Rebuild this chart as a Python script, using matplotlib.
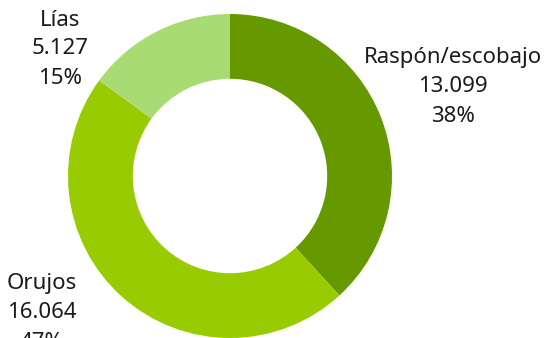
import matplotlib
matplotlib.use("Agg")
import matplotlib.pyplot as plt

categories = ["Raspón/escobajo", "Orujos", "Lías"]
values = [13099, 16064, 5127]
value_labels = ["13.099", "16.064", "5.127"]
pct_labels = ["38%", "47%", "15%"]
colors = ["#669900", "#99cc00", "#a9db74"]

W, H = 544, 338
fig = plt.figure(figsize=(W / 100, H / 100), dpi=100)
ax = fig.add_axes([0, 0, 1, 1])

cx, cy, r = 230, H - 176, 162
ax.pie(values, colors=colors, startangle=90, counterclock=False,
       center=(cx, cy), radius=r, frame=True,
       wedgeprops=dict(width=r * 0.4, linewidth=0))
ax.set_xlim(0, W)
ax.set_ylim(0, H)
ax.set_aspect("equal")
ax.axis("off")

label_pos = [(453, 58), (42, 284), (60, 20)]
font = dict(family=["Noto Sans", "DejaVu Sans"], fontsize=16, color="#1a1a1a")
for cat, v, p, (x, y) in zip(categories, value_labels, pct_labels, label_pos):
    for i, t in enumerate([cat, v, p]):
        ax.text(x, H - (y + i * 29), t, ha="center", va="center", **font)

fig.savefig("out.png", dpi=100)
